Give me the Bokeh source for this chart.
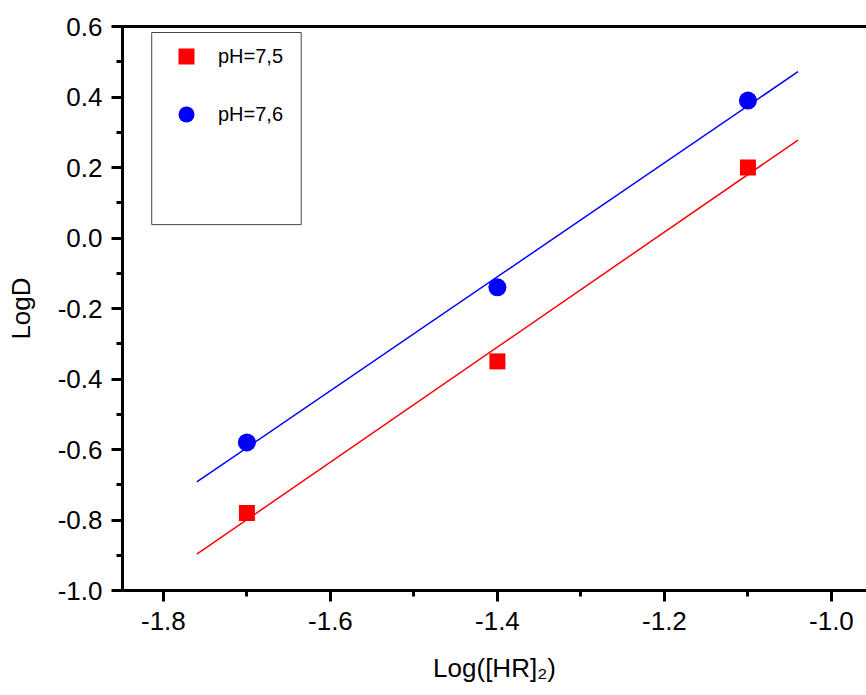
from bokeh.plotting import figure
from bokeh.models import (Range1d, SingleIntervalTicker, NumeralTickFormatter, LinearAxis,
                          Legend, LegendItem, BoxAnnotation)
from bokeh.embed import file_html
from bokeh.resources import INLINE

# data
log_hr = [-1.7, -1.4, -1.1]
logd_75 = [-0.78, -0.35, 0.20]
logd_76 = [-0.58, -0.14, 0.39]
fit_x = [-1.76, -1.04]
fit_75 = [-0.897, 0.278]
fit_76 = [-0.692, 0.472]
labels = ["pH=7,5", "pH=7,6"]

FONT = "Liberation Sans"

p = figure(width=866, height=695, output_backend="svg", toolbar_location=None,
           x_range=Range1d(-1.849, -0.958), y_range=Range1d(-1.0, 0.6001),
           min_border_top=26, min_border_left=122, min_border_right=0, min_border_bottom=105)
p.grid.visible = False
p.outline_line_color = None
p.background_fill_color = "white"

r_line = p.line(fit_x, fit_75, line_color="#FF0000", line_width=1.5)
b_line = p.line(fit_x, fit_76, line_color="#0000FF", line_width=1.5)
r_pts = p.scatter(log_hr, logd_75, marker="square", size=16, fill_color="#FF0000", line_color=None)
b_pts = p.scatter(log_hr, logd_76, marker="circle", size=18, fill_color="#0000FF", line_color=None)

for ax in (p.xaxis[0], p.yaxis[0]):
    ax.ticker = SingleIntervalTicker(interval=0.2, num_minor_ticks=2)
    ax.formatter = NumeralTickFormatter(format="0.0")
    ax.axis_line_width = 3
    ax.major_tick_line_width = 3
    ax.minor_tick_line_width = 3
    ax.major_tick_in = 0
    ax.major_tick_out = 11
    ax.minor_tick_in = 0
    ax.minor_tick_out = 6
    ax.major_label_text_font = FONT
    ax.major_label_text_font_size = "26px"
    ax.major_label_text_color = "black"
    ax.axis_label_text_font = FONT
    ax.axis_label_text_font_size = "26px"
    ax.axis_label_text_font_style = "normal"
    ax.axis_label_text_color = "black"

p.xaxis[0].axis_label = "Log([HR]\u2082)"
p.yaxis[0].axis_label = "LogD"
p.xaxis[0].major_label_standoff = 10
p.yaxis[0].major_label_standoff = 9
p.xaxis[0].axis_label_standoff = 20
p.yaxis[0].axis_label_standoff = 19

top = LinearAxis(major_tick_out=0, major_tick_in=0, minor_tick_out=0, minor_tick_in=0,
                 major_label_text_font_size="0px", axis_line_width=3)
top.major_label_text_alpha = 0
p.add_layout(top, "above")

box = BoxAnnotation(left=-1.814, right=-1.635, top=0.583, bottom=0.038,
                    fill_alpha=0, line_color="#444444", line_alpha=1, line_width=1)
p.add_layout(box)

legend = Legend(items=[LegendItem(label=labels[0], renderers=[r_pts]),
                       LegendItem(label=labels[1], renderers=[b_pts])],
                location=(44, 456), padding=0, margin=0, spacing=18,
                glyph_width=40, glyph_height=40, label_standoff=12,
                label_text_font=FONT, label_text_font_size="20px",
                label_text_color="black",
                border_line_alpha=0, background_fill_alpha=0)
p.add_layout(legend)

open("out.html", "w").write(file_html(p, INLINE))
